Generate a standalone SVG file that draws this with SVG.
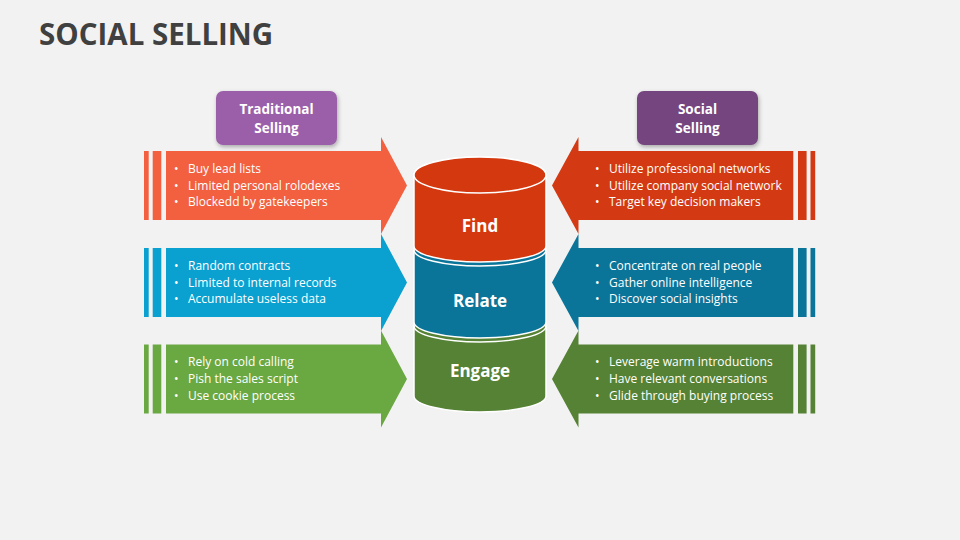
<svg xmlns="http://www.w3.org/2000/svg" width="960" height="540" viewBox="0 0 960 540">
<defs>
<style>
.title{font-family:"Open Sans","Liberation Sans",sans-serif;font-weight:bold;font-size:29.5px;fill:#404040}
.lbl{font-family:"Open Sans","Liberation Sans",sans-serif;font-weight:bold;font-size:13.5px;fill:#fff;text-anchor:middle}
.cyl{font-family:"Open Sans","Liberation Sans",sans-serif;font-weight:bold;font-size:17px;fill:#fff;text-anchor:middle}
.bt{font-family:"Open Sans","Liberation Sans",sans-serif;font-size:12px;fill:#fff}
.seg{stroke:#fff;stroke-width:1.5}
</style>
<filter id="sh" x="-20%" y="-20%" width="140%" height="150%">
<feDropShadow dx="1" dy="2" stdDeviation="2" flood-color="#000" flood-opacity="0.3"/>
</filter>
</defs>
<rect width="960" height="540" fill="#F2F2F2"/>
<text class="title" x="39" y="45">SOCIAL SELLING</text>

<g id="label-traditional">
<rect x="216" y="91" width="121" height="54" rx="7" fill="#9B5FAA" filter="url(#sh)"/>
<text class="lbl" x="276.5" y="114">Traditional</text>
<text class="lbl" x="276.5" y="133">Selling</text>
</g>
<g id="label-social">
<rect x="637" y="91" width="121" height="54" rx="7" fill="#74457F" filter="url(#sh)"/>
<text class="lbl" x="697.5" y="114">Social</text>
<text class="lbl" x="697.5" y="133">Selling</text>
</g>

<g id="arrow-left-1" fill="#F26040">
<rect x="144" y="151" width="4.7" height="69"/>
<rect x="152.7" y="151" width="8.6" height="69"/>
<polygon points="166,151 381,151 381,137 407,185.5 381,234 381,220 166,220"/>
<text class="bt" y="172.5"><tspan x="174">•</tspan><tspan x="188">Buy lead lists</tspan></text>
<text class="bt" y="189.5"><tspan x="174">•</tspan><tspan x="188">Limited personal rolodexes</tspan></text>
<text class="bt" y="206"><tspan x="174">•</tspan><tspan x="188">Blockedd by gatekeepers</tspan></text>
</g>
<g id="arrow-left-2" fill="#0AA0D0">
<rect x="144" y="248" width="4.7" height="69"/>
<rect x="152.7" y="248" width="8.6" height="69"/>
<polygon points="166,248 381,248 381,234 407,282.5 381,331 381,317 166,317"/>
<text class="bt" y="269.5"><tspan x="174">•</tspan><tspan x="188">Random contracts</tspan></text>
<text class="bt" y="286.5"><tspan x="174">•</tspan><tspan x="188">Limited to internal records</tspan></text>
<text class="bt" y="303"><tspan x="174">•</tspan><tspan x="188">Accumulate useless data</tspan></text>
</g>
<g id="arrow-left-3" fill="#6AA842">
<rect x="144" y="344.5" width="4.7" height="69"/>
<rect x="152.7" y="344.5" width="8.6" height="69"/>
<polygon points="166,344.5 381,344.5 381,330.5 407,379 381,427.5 381,413.5 166,413.5"/>
<text class="bt" y="366"><tspan x="174">•</tspan><tspan x="188">Rely on cold calling</tspan></text>
<text class="bt" y="383"><tspan x="174">•</tspan><tspan x="188">Pish the sales script</tspan></text>
<text class="bt" y="399.5"><tspan x="174">•</tspan><tspan x="188">Use cookie process</tspan></text>
</g>

<g id="arrow-right-1" fill="#D33A13">
<rect x="810.5" y="151" width="4.7" height="69"/>
<rect x="798" y="151" width="8.6" height="69"/>
<polygon points="793.3,151 578.5,151 578.5,137 552,185.5 578.5,234 578.5,220 793.3,220"/>
<text class="bt" y="172.5"><tspan x="595">•</tspan><tspan x="609">Utilize professional networks</tspan></text>
<text class="bt" y="189.5"><tspan x="595">•</tspan><tspan x="609">Utilize company social network</tspan></text>
<text class="bt" y="206"><tspan x="595">•</tspan><tspan x="609">Target key decision makers</tspan></text>
</g>
<g id="arrow-right-2" fill="#0B7499">
<rect x="810.5" y="248" width="4.7" height="69"/>
<rect x="798" y="248" width="8.6" height="69"/>
<polygon points="793.3,248 578.5,248 578.5,234 552,282.5 578.5,331 578.5,317 793.3,317"/>
<text class="bt" y="269.5"><tspan x="595">•</tspan><tspan x="609">Concentrate on real people</tspan></text>
<text class="bt" y="286.5"><tspan x="595">•</tspan><tspan x="609">Gather online intelligence</tspan></text>
<text class="bt" y="303"><tspan x="595">•</tspan><tspan x="609">Discover social insights</tspan></text>
</g>
<g id="arrow-right-3" fill="#558235">
<rect x="810.5" y="344.5" width="4.7" height="69"/>
<rect x="798" y="344.5" width="8.6" height="69"/>
<polygon points="793.3,344.5 578.5,344.5 578.5,330.5 552,379 578.5,427.5 578.5,413.5 793.3,413.5"/>
<text class="bt" y="366"><tspan x="595">•</tspan><tspan x="609">Leverage warm introductions</tspan></text>
<text class="bt" y="383"><tspan x="595">•</tspan><tspan x="609">Have relevant conversations</tspan></text>
<text class="bt" y="399.5"><tspan x="595">•</tspan><tspan x="609">Glide through buying process</tspan></text>
</g>

<g id="cyl-engage">
<path class="seg" fill="#558235" d="M414,326 L414,396 A66,16 0 0 0 546,396 L546,326 A66,16 0 0 0 414,326 Z"/>
<path class="seg" fill="none" d="M414,326 A66,16 0 0 0 546,326"/>
<text class="cyl" x="480" y="377">Engage</text>
</g>
<g id="cyl-relate">
<path class="seg" fill="#0B7499" d="M414,250 L414,322 A66,16 0 0 0 546,322 L546,250 A66,16 0 0 0 414,250 Z"/>
<path class="seg" fill="none" d="M414,250 A66,16 0 0 0 546,250"/>
<text class="cyl" x="480" y="306.5">Relate</text>
</g>
<g id="cyl-find">
<path class="seg" fill="#D4380F" d="M414,175 L414,246 A66,16 0 0 0 546,246 L546,175 A66,18 0 0 0 414,175 Z"/>
<ellipse class="seg" fill="#D4380F" cx="480" cy="175" rx="66" ry="18"/>
<text class="cyl" x="480" y="232">Find</text>
</g>
</svg>
